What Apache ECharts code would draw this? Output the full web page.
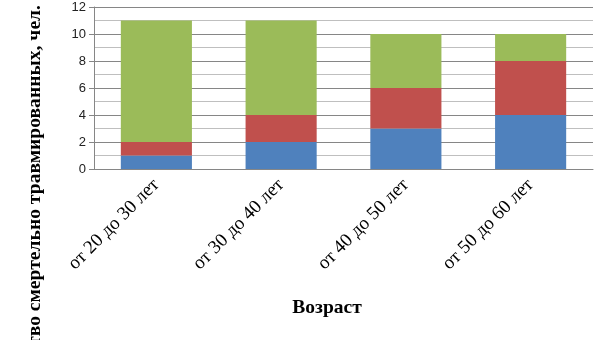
<!DOCTYPE html>
<html>
<head>
<meta charset="utf-8">
<script src="https://cdn.jsdelivr.net/npm/echarts@6/dist/echarts.min.js"></script>
<style>html,body{margin:0;padding:0;background:#fff}#c{width:605px;height:340px}</style>
</head>
<body>
<div id="c"></div>
<script>
var categories = ['от 20 до 30 лет', 'от 30 до 40 лет', 'от 40 до 50 лет', 'от 50 до 60 лет'];
var seriesBlue = [1, 2, 3, 4];
var seriesRed = [1, 2, 3, 4];
var seriesGreen = [9, 7, 4, 2];
var yTicks = [0, 2, 4, 6, 8, 10, 12];
var yTitle = 'Количество смертельно травмированных, чел.';
var xTitle = 'Возраст';

var chart = echarts.init(document.getElementById('c'));
function bar(name, data, color) {
  return { name: name, type: 'bar', stack: 'a', data: data, barWidth: '57%',
    itemStyle: { color: color }, emphasis: { disabled: true } };
}
chart.setOption({
  animation: false,
  grid: { left: 94, right: 12, top: 7, bottom: 171, containLabel: false },
  xAxis: {
    type: 'category', data: categories,
    axisLine: { lineStyle: { color: '#868686', width: 1 } },
    axisTick: { show: false },
    axisLabel: { rotate: 45, fontFamily: 'Liberation Serif', fontSize: 19, color: '#000', margin: 13, interval: 0 }
  },
  yAxis: {
    type: 'value', min: yTicks[0], max: yTicks[yTicks.length - 1], interval: 2,
    axisLine: { show: true, lineStyle: { color: '#868686', width: 1 } },
    axisTick: { show: true, length: 5, lineStyle: { color: '#868686' } },
    axisLabel: { fontFamily: 'Liberation Sans', fontSize: 13, color: '#222', margin: 8 },
    splitLine: { lineStyle: { color: '#868686', width: 1 } },
    minorTick: { show: false, splitNumber: 2 },
    minorSplitLine: { show: true, lineStyle: { color: '#bfbfbf', width: 1 } }
  },
  series: [
    bar('1', seriesBlue, '#4f81bd'),
    bar('2', seriesRed, '#c0504d'),
    bar('3', seriesGreen, '#9bbb59')
  ],
  graphic: [
    { type: 'text', x: 35, y: 5, rotation: Math.PI / 2,
      style: { text: yTitle, font: 'bold 19.6px "Liberation Serif"', fill: '#000', align: 'right', verticalAlign: 'middle' } },
    { type: 'text', x: 327, y: 308,
      style: { text: xTitle, font: 'bold 19.5px "Liberation Serif"', fill: '#000', align: 'center', verticalAlign: 'middle' } }
  ]
});
</script>
</body>
</html>
